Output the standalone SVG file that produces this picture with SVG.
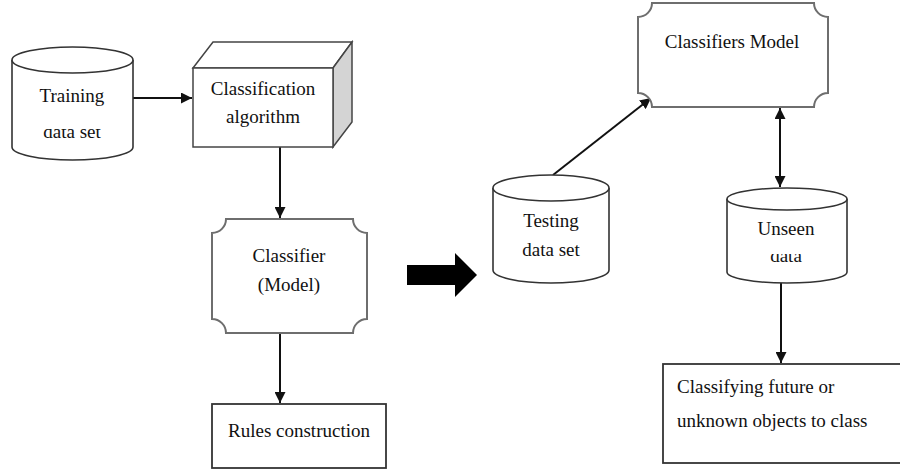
<svg xmlns="http://www.w3.org/2000/svg" width="900" height="471" viewBox="0 0 900 471">
<style>
.lbl{font-family:"Liberation Serif","Times New Roman",serif;font-size:19px;fill:#111}
.c{text-anchor:middle}
.shape{fill:#fff;stroke:#333;stroke-width:1.6}
.plaque{fill:#fff;stroke:#6e6e6e;stroke-width:2}
.conn{stroke:#111;stroke-width:2;fill:none}
</style>
<defs>
<marker id="ah" viewBox="0 0 10 10" refX="10" refY="5" markerWidth="5.5" markerHeight="5.5" orient="auto-start-reverse" markerUnits="strokeWidth">
<path d="M0,0 L10,5 L0,10 Z" fill="#111"/>
</marker>
<clipPath id="clipTrain"><rect x="0" y="129" width="150" height="20"/></clipPath>
<clipPath id="clipUnseen"><rect x="720" y="254" width="140" height="20"/></clipPath>
</defs>
<rect width="900" height="471" fill="#fff"/>

<g id="connectors">
<line class="conn" x1="133" y1="98" x2="192" y2="98" marker-end="url(#ah)"/>
<line class="conn" x1="280" y1="147" x2="280" y2="218" marker-end="url(#ah)"/>
<line class="conn" x1="280" y1="333" x2="280" y2="403" marker-end="url(#ah)"/>
<line class="conn" x1="553" y1="175" x2="651" y2="98" marker-end="url(#ah)"/>
<line class="conn" x1="780" y1="108" x2="780" y2="187" marker-start="url(#ah)" marker-end="url(#ah)"/>
<line class="conn" x1="781" y1="283" x2="781" y2="363" marker-end="url(#ah)"/>
<polygon points="407,265 455,265 455,253 477,275 455,297 455,285 407,285" fill="#000"/>
</g>

<g id="training">
<path class="shape" d="M12,60 V147 A60.5,13 0 0 0 133,147 V60"/>
<ellipse class="shape" cx="72.5" cy="60" rx="60.5" ry="13"/>
<text class="lbl c" x="72" y="102">Training</text>
<text class="lbl c" x="72" y="138" clip-path="url(#clipTrain)">data set</text>
</g>

<g id="classification">
<polygon points="193,68 213,42 352,42 333,68" fill="#fff" stroke="#444" stroke-width="1.5"/>
<polygon points="333,68 352,42 352,122 333,147" fill="#d4d4d4" stroke="#444" stroke-width="1.5"/>
<rect x="193" y="68" width="140" height="79" fill="#fff" stroke="#444" stroke-width="1.5"/>
<text class="lbl c" x="263" y="95">Classification</text>
<text class="lbl c" x="263" y="123">algorithm</text>
</g>

<g id="classifier">
<path class="plaque" d="M226,219 H353 A14,14 0 0 0 367,233 V319 A14,14 0 0 0 353,333 H226 A14,14 0 0 0 212,319 V233 A14,14 0 0 0 226,219 Z"/>
<text class="lbl c" x="289" y="262">Classifier</text>
<text class="lbl c" x="289" y="291">(Model)</text>
</g>

<g id="rules">
<rect x="212" y="404" width="174" height="64" fill="#fff" stroke="#333" stroke-width="1.8"/>
<text class="lbl" x="228" y="437">Rules construction</text>
</g>

<g id="classifiers-model">
<path class="plaque" d="M652,3 H814 A14,14 0 0 0 828,17 V93 A14,14 0 0 0 814,107 H652 A14,14 0 0 0 638,93 V17 A14,14 0 0 0 652,3 Z"/>
<text class="lbl c" x="732" y="48">Classifiers Model</text>
</g>

<g id="testing">
<path class="shape" d="M493,188 V270 A58,13 0 0 0 609,270 V188"/>
<ellipse class="shape" cx="551" cy="188" rx="58" ry="13"/>
<text class="lbl c" x="551" y="227">Testing</text>
<text class="lbl c" x="551" y="256">data set</text>
</g>

<g id="unseen">
<path class="shape" d="M727,199 V272 A60,11 0 0 0 847,272 V199"/>
<ellipse class="shape" cx="787" cy="199" rx="60" ry="11"/>
<text class="lbl c" x="786" y="235">Unseen</text>
<text class="lbl c" x="786" y="262" clip-path="url(#clipUnseen)">data</text>
</g>

<g id="classifying">
<rect x="663" y="364" width="250" height="99" fill="#fff" stroke="#333" stroke-width="1.8"/>
<text class="lbl" x="677" y="393">Classifying future or</text>
<text class="lbl" x="677" y="427">unknown objects to class</text>
</g>
</svg>
